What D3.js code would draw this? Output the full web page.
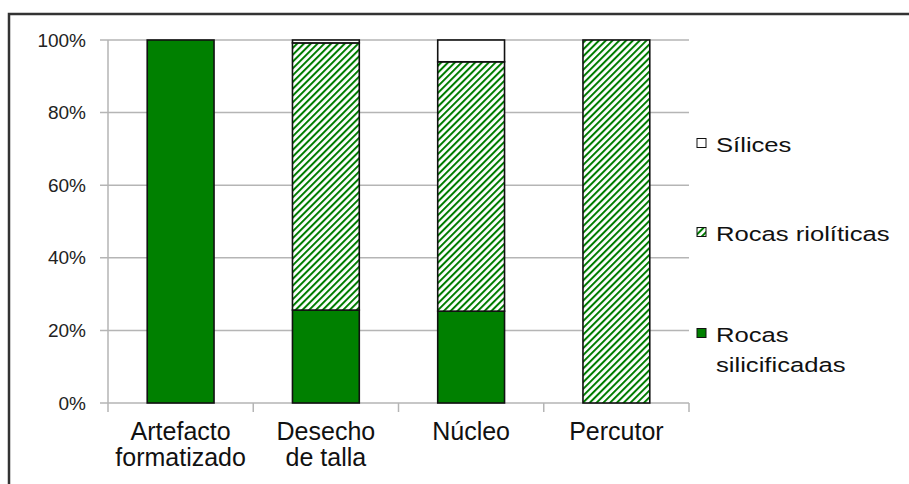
<!DOCTYPE html>
<html>
<head>
<meta charset="utf-8">
<script src="https://cdn.jsdelivr.net/npm/d3@7"></script>
<style>
  body { margin: 0; background: #fff; }
  svg { display: block; font-family: "Liberation Sans", Arial, sans-serif; }
</style>
</head>
<body>
<svg id="chart"></svg>
<script>
var width = 909;
var height = 484;

// categories and percentages
var categories = ["Artefacto formatizado", "Desecho de talla", "Núcleo", "Percutor"];
var catLines = [["Artefacto", "formatizado"], ["Desecho", "de talla"], ["Núcleo"], ["Percutor"]];
var seriesNames = ["Rocas silicificadas", "Rocas riolíticas", "Sílices"];
var silicificadas = [100, 25.6, 25.3, 0];
var rioliticas = [0, 73.6, 68.7, 100];
var silices = [0, 0.8, 6.0, 0];
var yTicks = [0, 20, 40, 60, 80, 100];

var margin = {left: 108, right: 220, top: 40, bottom: 81};

var svg = d3.select("#chart")
  .attr("width", width)
  .attr("height", height);

var defs = svg.append("defs");
var pat = defs.append("pattern")
  .attr("id", "hatch")
  .attr("patternUnits", "userSpaceOnUse")
  .attr("width", 4.8)
  .attr("height", 4.8)
  .attr("patternTransform", "rotate(45)");
pat.append("rect").attr("width", 4.8).attr("height", 4.8).attr("fill", "#fff");
pat.append("line")
  .attr("x1", 0).attr("y1", 0).attr("x2", 0).attr("y2", 4.8)
  .attr("stroke", "#007c00").attr("stroke-width", 4);

var fills = ["#008000", "url(#hatch)", "#ffffff"];

// outer frame
svg.append("rect")
  .attr("x", 9).attr("y", 14)
  .attr("width", 940).attr("height", 500)
  .attr("fill", "none")
  .attr("stroke", "#333")
  .attr("stroke-width", 2.5);

var x = d3.scaleBand()
  .domain(categories)
  .range([margin.left, width - margin.right])
  .paddingInner(0.54)
  .paddingOuter(0.27);

var y = d3.scaleLinear()
  .domain([0, 100])
  .range([height - margin.bottom, margin.top]);

// gridlines
svg.append("g")
  .selectAll("line")
  .data(yTicks)
  .enter().append("line")
  .attr("x1", margin.left - 8)
  .attr("x2", width - margin.right)
  .attr("y1", function(d) { return y(d); })
  .attr("y2", function(d) { return y(d); })
  .attr("stroke", "#b5b5b5")
  .attr("stroke-width", 1.5);

// y axis line
svg.append("line")
  .attr("x1", margin.left).attr("x2", margin.left)
  .attr("y1", y(100)).attr("y2", y(0))
  .attr("stroke", "#b5b5b5").attr("stroke-width", 1.5);

// category ticks
var bounds = d3.range(categories.length + 1).map(function(i) { return margin.left + i * (width - margin.left - margin.right) / categories.length; });
svg.append("g")
  .selectAll("line")
  .data(bounds)
  .enter().append("line")
  .attr("x1", function(d) { return d; })
  .attr("x2", function(d) { return d; })
  .attr("y1", y(0))
  .attr("y2", y(0) + 9)
  .attr("stroke", "#b5b5b5")
  .attr("stroke-width", 1.5);

// y tick labels
svg.append("g")
  .selectAll("text")
  .data(yTicks)
  .enter().append("text")
  .attr("x", 86)
  .attr("y", function(d) { return y(d); })
  .attr("dy", "0.35em")
  .attr("text-anchor", "end")
  .attr("font-size", 19)
  .attr("fill", "#222")
  .text(function(d) { return d + "%"; });

// stacked bars
var rows = categories.map(function(c, i) {
  return {cat: c, "Rocas silicificadas": silicificadas[i], "Rocas riolíticas": rioliticas[i], "Sílices": silices[i]};
});
var stack = d3.stack().keys(seriesNames)(rows);

svg.append("g")
  .selectAll("g")
  .data(stack)
  .enter().append("g")
  .attr("fill", function(d, i) { return fills[i]; })
  .selectAll("rect")
  .data(function(d) { return d.filter(function(p) { return p[1] - p[0] > 0; }); })
  .enter().append("rect")
  .attr("x", function(d) { return x(d.data.cat); })
  .attr("y", function(d) { return y(d[1]); })
  .attr("width", x.bandwidth())
  .attr("height", function(d) { return y(d[0]) - y(d[1]); })
  .attr("stroke", "#111")
  .attr("stroke-width", 1.6);

// category labels
var cl = svg.append("g")
  .selectAll("text")
  .data(categories)
  .enter().append("text")
  .attr("x", function(d) { return x(d) + x.bandwidth() / 2; })
  .attr("y", 440)
  .attr("text-anchor", "middle")
  .attr("font-size", 25)
  .attr("fill", "#111");
cl.selectAll("tspan")
  .data(function(d, i) { return catLines[i]; })
  .enter().append("tspan")
  .attr("x", function() { return d3.select(this.parentNode).attr("x"); })
  .attr("dy", function(d, i) { return i === 0 ? 0 : 26; })
  .text(function(d) { return d; });

// legend
var legendItems = [
  {name: "Sílices", fill: fills[2], y: 143, lines: ["Sílices"]},
  {name: "Rocas riolíticas", fill: fills[1], y: 232, lines: ["Rocas riolíticas"]},
  {name: "Rocas silicificadas", fill: fills[0], y: 333, lines: ["Rocas", "silicificadas"]}
];
var lg = svg.append("g").selectAll("g")
  .data(legendItems)
  .enter().append("g");
lg.append("rect")
  .attr("x", 697)
  .attr("y", function(d) { return d.y - 4.5; })
  .attr("width", 9)
  .attr("height", 9)
  .attr("fill", function(d) { return d.fill; })
  .attr("stroke", "#111")
  .attr("stroke-width", 1);
lg.each(function(d) {
  var g = d3.select(this);
  d.lines.forEach(function(line, i) {
    g.append("text")
      .attr("transform", "translate(716," + (d.y + 9 + i * 30) + ") scale(1.25,1)")
      .attr("font-size", 20.5)
      .attr("fill", "#111")
      .text(line);
  });
});
</script>
</body>
</html>
